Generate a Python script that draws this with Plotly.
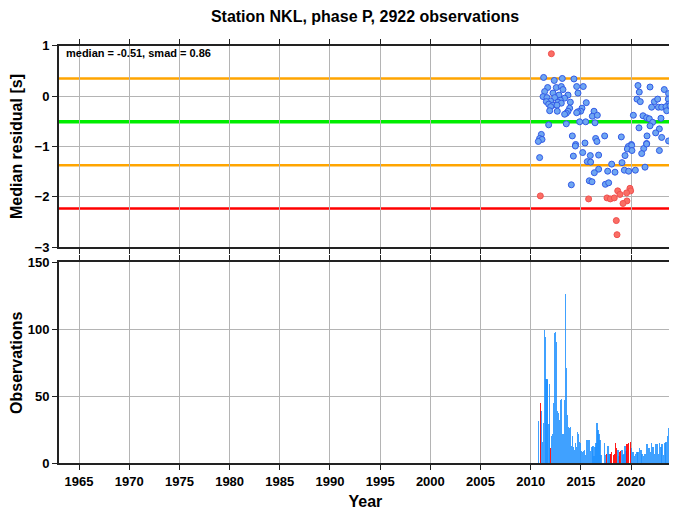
import plotly.graph_objects as go

# ---------------- data ----------------
median = -0.51
smad = 0.86

blue_years = [2011.29, 2012.35, 2013.15, 2014.31, 2011.69, 2012.55, 2013.05, 2013.22, 2014.58, 2015.24,
              2011.39, 2012.22, 2012.82, 2013.72, 2014.71, 2011.23, 2011.62, 2012.39, 2013.38, 2012.95,
              2011.99, 2012.72, 2011.56, 2011.79, 2012.22, 2013.05, 2013.95, 2011.99, 2012.62, 2013.88,
              2013.72, 2013.55, 2013.38, 2015.11, 2014.98, 2014.71, 2014.58, 2015.54, 2016.31, 2016.14,
              2016.64, 2011.89, 2012.65, 2011.79, 2013.55, 2014.88, 2015.48, 2016.41, 2011.06, 2010.89,
              2011.13, 2010.76, 2014.15, 2014.48, 2015.41, 2016.47, 2016.60,
              2020.69, 2021.89, 2023.31, 2023.74, 2020.82, 2020.59, 2020.92, 2022.32, 2022.65, 2023.71,
              2023.74, 2022.05, 2022.72, 2023.05, 2023.48, 2023.55, 2023.88, 2020.23, 2021.19, 2021.55,
              2021.82, 2022.98, 2022.15, 2021.89, 2020.79, 2022.82, 2022.45, 2023.05, 2021.59, 2017.37,
              2019.03, 2021.55, 2020.03, 2023.74,
              2014.45, 2010.89, 2014.25, 2015.18, 2015.94, 2016.77, 2015.64, 2015.97, 2016.77, 2016.34,
              2014.05, 2015.84, 2016.11,
              2019.73, 2020.06, 2019.63, 2020.09, 2021.26, 2021.55, 2021.06, 2022.82, 2019.40, 2018.07,
              2019.10, 2017.67, 2018.40, 2019.33, 2019.76, 2020.43, 2021.39, 2017.44, 2017.77]
blue_resid = [0.37, 0.31, 0.35, 0.34, 0.17, 0.17, 0.19, 0.13, 0.19, 0.19,
              0.09, 0.06, 0.02, 0.02, 0.06, -0.01, -0.03, -0.03, -0.04, -0.08,
              -0.10, -0.12, -0.11, -0.16, -0.18, -0.14, -0.12, -0.21, -0.18, -0.24,
              -0.30, -0.34, -0.36, -0.24, -0.30, -0.31, -0.33, -0.13, -0.30, -0.40,
              -0.38, -0.29, -0.30, -0.57, -0.55, -0.51, -0.51, -0.53, -0.76, -0.84,
              -0.86, -0.90, -0.79, -0.96, -0.93, -0.84, -0.90,
              0.21, 0.18, 0.13, 0.05, 0.08, -0.06, -0.11, -0.11, -0.06, -0.06,
              -0.16, -0.22, -0.22, -0.22, -0.21, -0.29, -0.19, -0.38, -0.39, -0.43,
              -0.45, -0.44, -0.52, -0.59, -0.63, -0.65, -0.73, -0.82, -0.79, -0.79,
              -0.81, -0.94, -0.96, -0.89,
              -0.99, -1.22, -1.19, -1.12, -1.18, -1.17, -1.30, -1.31, -1.45, -1.52,
              -1.76, -1.68, -1.70,
              -1.00, -0.98, -1.05, -1.08, -1.04, -0.95, -1.14, -1.08, -1.18, -1.35,
              -1.32, -1.49, -1.51, -1.47, -1.49, -1.47, -1.41, -1.75, -1.72]

red_years = [2012.06, 2010.96, 2015.77, 2019.89, 2019.96, 2019.56, 2018.67, 2018.90, 2017.60, 2017.94,
             2018.33, 2019.59, 2019.20, 2018.53, 2018.60]
red_resid = [0.84, -1.98, -2.04, -1.83, -1.88, -1.92, -1.88, -1.95, -2.02, -2.04,
             -2.02, -2.08, -2.13, -2.47, -2.75]

obs_years = [2010.78, 2011.05, 2011.18, 2011.28, 2011.38, 2011.46, 2011.53, 2011.61, 2011.69, 2011.81,
             2011.89, 2012.08, 2012.17, 2012.27, 2012.37, 2012.47, 2012.57, 2012.67, 2012.77, 2012.87,
             2012.97, 2013.07, 2013.17, 2013.27, 2013.37, 2013.45, 2013.57, 2013.67, 2013.77, 2013.87,
             2013.97, 2014.07, 2014.17, 2014.27, 2014.37, 2014.47, 2014.57, 2014.66, 2014.76, 2014.86,
             2014.96, 2015.06, 2015.16, 2015.26, 2015.36, 2015.46, 2015.63, 2015.83, 2015.96, 2016.09,
             2016.19, 2016.29, 2016.39, 2016.49, 2016.59, 2016.69, 2016.79, 2016.89, 2016.99, 2017.35,
             2017.45, 2017.68, 2017.78, 2017.88, 2018.68, 2018.78, 2019.08, 2019.18, 2019.28, 2019.38,
             2019.48, 2020.06, 2020.19, 2020.33, 2020.46, 2020.59, 2020.72, 2020.86, 2020.99, 2021.12,
             2021.25, 2021.39, 2021.52, 2021.65, 2021.79, 2021.92, 2022.05, 2022.18, 2022.32, 2022.45,
             2022.58, 2022.72, 2022.85, 2022.98, 2023.11, 2023.25, 2023.38, 2023.51, 2023.65, 2023.78,
             2023.91]
obs_counts = [31, 39, 16, 30, 99, 94, 63, 63, 62, 29,
              59, 20, 22, 45, 97, 98, 90, 39, 37, 32,
              47, 48, 22, 22, 47, 126, 71, 36, 27, 26,
              27, 13, 20, 12, 10, 15, 12, 23, 22, 16,
              15, 9, 8, 9, 10, 6, 17, 17, 9, 12,
              13, 5, 12, 15, 30, 25, 22, 17, 6, 15,
              6, 13, 7, 7, 10, 5, 10, 6, 7, 13,
              9, 11, 8, 5, 7, 8, 8, 11, 10, 7,
              5, 7, 14, 14, 11, 8, 15, 12, 7, 14,
              14, 7, 15, 12, 14, 6, 15, 16, 20, 26,
              27]

red_obs_years = [2010.95, 2011.99, 2015.71, 2017.55, 2017.98, 2018.08, 2018.28, 2018.38, 2018.48, 2018.58,
                 2018.88, 2018.98, 2019.59, 2019.66, 2019.79, 2019.93]
red_obs_counts = [45, 11, 17, 7, 7, 8, 6, 7, 15, 11,
                  8, 9, 14, 14, 15, 16]

year_ticks = [1965, 1970, 1975, 1980, 1985, 1990, 1995, 2000, 2005, 2010, 2015, 2020]
title_text = "Station NKL, phase P, 2922 observations"

# ---------------- figure ----------------
# page body has an 8px margin, so the figure occupies the window minus that offset
OFF = 8
W, H = 677 - OFF, 511 - OFF


def px_x(v):
    return (v - OFF) / W


def px_y(v):
    return 1 - (v - OFF) / H


fig = go.Figure()

fig.add_trace(go.Bar(x=obs_years, y=obs_counts, width=0.16, xaxis="x2", yaxis="y2",
                     marker=dict(color="rgba(30,144,255,0.85)", line=dict(width=0)),
                     showlegend=False))
fig.add_trace(go.Bar(x=red_obs_years, y=red_obs_counts, width=0.09, xaxis="x2", yaxis="y2",
                     marker=dict(color="rgba(255,0,0,0.9)", line=dict(width=0)),
                     showlegend=False))

fig.add_trace(go.Scatter(x=blue_years, y=blue_resid, mode="markers", xaxis="x", yaxis="y",
                         marker=dict(size=6, color="rgb(110,166,242)",
                                     line=dict(color="rgb(50,90,230)", width=1)),
                         showlegend=False))
fig.add_trace(go.Scatter(x=red_years, y=red_resid, mode="markers", xaxis="x", yaxis="y",
                         marker=dict(size=6, color="rgb(250,110,100)",
                                     line=dict(color="rgb(240,80,80)", width=1)),
                         showlegend=False))

# reference lines
lines = [(median + smad, "orange", 2.5), (median, "#00ee00", 3.5),
         (median - smad, "orange", 2.5), (median - 2 * smad, "red", 2.5)]
for yv, col, w in lines:
    fig.add_shape(type="line", xref="x domain", yref="y", x0=0, x1=1, y0=yv, y1=yv,
                  line=dict(color=col, width=w), layer="below")

xdom = [px_x(59), px_x(671.7)]
tickfont = dict(family="Liberation Sans", size=13, color="black", weight="bold")
titlefont = dict(family="Liberation Sans", size=16, color="black", weight="bold")
common_x = dict(range=[1963, 2024.05], tickvals=year_ticks, showgrid=True, gridcolor="#b4b4b4",
                gridwidth=1, showline=True, linecolor="#222", linewidth=2, mirror="ticks",
                ticks="outside", ticklen=5, tickcolor="#222", zeroline=False, domain=xdom,
                automargin=False)
common_y = dict(showgrid=True, gridcolor="#b4b4b4", gridwidth=1, showline=True, linecolor="#222",
                linewidth=2, mirror="ticks", ticks="outside", ticklen=5, tickcolor="#222",
                zeroline=False, tickfont=tickfont, automargin=False)

fig.update_layout(
    width=W, height=H,
    margin=dict(l=0, r=0, t=0, b=0, autoexpand=False),
    paper_bgcolor="white", plot_bgcolor="white",
    barmode="overlay", bargap=0,
    title=dict(text=title_text, x=px_x(365), xanchor="center", y=px_y(16), yanchor="middle",
               font=titlefont),
    xaxis=dict(common_x, showticklabels=False, anchor="y"),
    yaxis=dict(common_y, range=[-3, 1], tickvals=[-3, -2, -1, 0, 1], anchor="x",
               domain=[px_y(247.3), px_y(45.7)],
               title=dict(text="Median residual [s]", standoff=17, font=titlefont)),
    xaxis2=dict(common_x, showticklabels=True, tickfont=tickfont, anchor="y2",
                title=dict(text="Year", standoff=8, font=titlefont)),
    yaxis2=dict(common_y, range=[0, 150], tickvals=[0, 50, 100, 150], anchor="x2",
                domain=[px_y(463.3), px_y(262.3)],
                title=dict(text="Observations", standoff=17, font=titlefont)),
)

fig.add_annotation(text="median = -0.51, smad = 0.86", xref="paper", yref="paper",
                   x=px_x(64), y=px_y(53), xanchor="left", yanchor="middle", showarrow=False,
                   font=dict(family="Liberation Sans", size=11, color="black", weight="bold"))

fig.write_html("out.html")
